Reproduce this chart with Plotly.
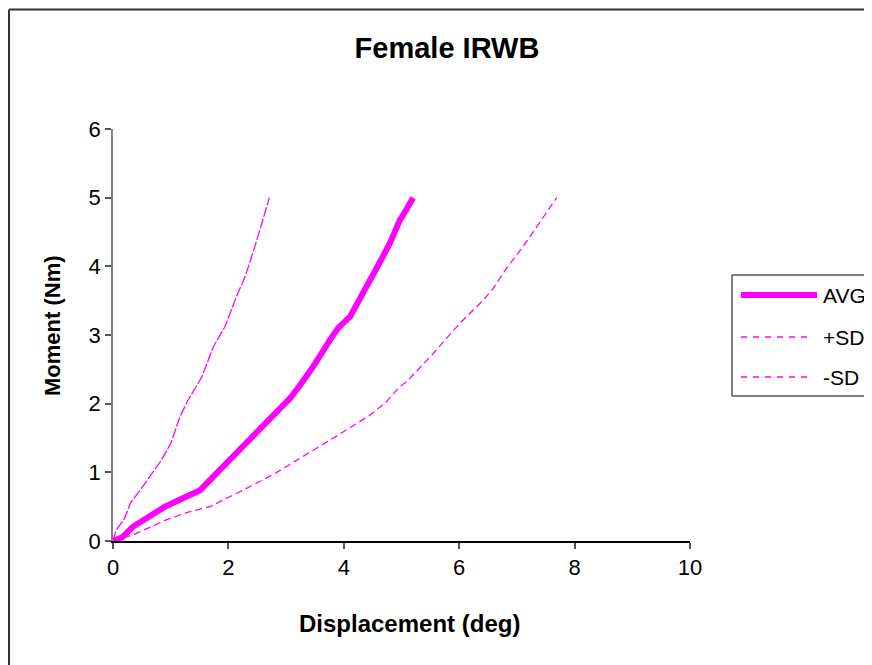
import plotly.graph_objects as go

# ---- data ----
avg_x = [0, 0.15, 0.35, 0.6, 0.9, 1.2, 1.51, 1.81, 2.08, 2.4, 2.75, 3.07, 3.25, 3.47, 3.76, 3.9, 4.11, 4.3, 4.51, 4.65, 4.8, 4.97, 5.1, 5.2]
avg_y = [0, 0.05, 0.21, 0.35, 0.5, 0.62, 0.74, 1.0, 1.23, 1.51, 1.82, 2.08, 2.28, 2.54, 2.93, 3.1, 3.27, 3.55, 3.9, 4.1, 4.34, 4.67, 4.85, 5.0]

psd_x = [0, 0.05, 0.2, 0.3, 0.47, 0.64, 0.84, 1.0, 1.16, 1.3, 1.54, 1.74, 1.94, 2.14, 2.29, 2.46, 2.6, 2.71]
psd_y = [0, 0.15, 0.33, 0.55, 0.74, 0.94, 1.18, 1.42, 1.81, 2.05, 2.39, 2.83, 3.12, 3.56, 3.85, 4.29, 4.67, 5.0]

msd_x = [0, 0.35, 0.93, 1.3, 1.68, 2.0, 2.37, 2.8, 3.24, 3.5, 3.82, 4.05, 4.45, 4.74, 4.97, 5.09, 5.55, 6.01, 6.42, 6.59, 6.82, 7.11, 7.4, 7.57, 7.69]
msd_y = [0, 0.09, 0.31, 0.42, 0.5, 0.63, 0.79, 0.98, 1.2, 1.33, 1.5, 1.62, 1.83, 2.03, 2.25, 2.32, 2.73, 3.17, 3.51, 3.68, 3.97, 4.29, 4.65, 4.87, 5.0]

series_names = ["AVG", "+SD", "-SD"]
title_text = "Female IRWB"
x_title = "Displacement (deg)"
y_title = "Moment (Nm)"

MAG = "#FF00FF"
FONT = "Arial, Liberation Sans, sans-serif"

OFF = 8  # page body margin offset
W, H = 872, 665
L, T = 113 - OFF, 129 - OFF
PW, PH = 577, 412
R = W - L - PW
B = H - T - PH


def px(xs):
    return (xs - OFF - L) / PW


def py(ys):
    return (T + PH - (ys - OFF)) / PH


def seg(x0, y0, x1, y1, color, width, dash="solid"):
    return dict(type="line", xref="paper", yref="paper", x0=px(x0), x1=px(x1), y0=py(y0), y1=py(y1),
                line=dict(color=color, width=width, dash=dash))


fig = go.Figure()
fig.add_trace(go.Scatter(x=avg_x, y=avg_y, mode="lines", name=series_names[0],
                         line=dict(color=MAG, width=6), showlegend=False))
fig.add_trace(go.Scatter(x=psd_x, y=psd_y, mode="lines", name=series_names[1],
                         line=dict(color=MAG, width=1.3, dash="10px,2px"), showlegend=False))
fig.add_trace(go.Scatter(x=msd_x, y=msd_y, mode="lines", name=series_names[2],
                         line=dict(color=MAG, width=1.3, dash="7px,4px"), showlegend=False))

shapes = [
    # chart border (left and top edges only; others fall outside the picture)
    seg(9, 9.5, 9, 665, "#333333", 2),
    seg(9, 9.5, 872, 9.5, "#333333", 2),
    # legend box (right edge falls outside the picture)
    seg(732, 275, 872, 275, "#000000", 1),
    seg(732, 396, 872, 396, "#000000", 1),
    seg(732, 275, 732, 396, "#000000", 1),
    # legend samples
    seg(741, 295, 817, 295, MAG, 6),
    seg(741, 337, 812, 337, MAG, 1.3, "6px,6px"),
    seg(741, 377, 812, 377, MAG, 1.3, "6px,6px"),
]

annotations = [
    dict(text=series_names[i], xref="paper", yref="paper", x=px(821), y=py(yy), xanchor="left",
         yanchor="middle", showarrow=False, font=dict(family=FONT, size=21, color="black"))
    for i, yy in enumerate([295, 337, 377])
]
annotations += [
    dict(text="<b>%s</b>" % x_title, xref="paper", yref="paper", x=px(409), y=py(623),
         xanchor="center", yanchor="middle", showarrow=False,
         font=dict(family=FONT, size=24, color="black")),
    dict(text="<b>%s</b>" % y_title, xref="paper", yref="paper", x=px(52), y=py(326),
         xanchor="center", yanchor="middle", showarrow=False, textangle=-90,
         font=dict(family=FONT, size=22, color="black")),
]

fig.update_layout(
    width=W, height=H,
    margin=dict(l=L, r=R, t=T, b=B),
    paper_bgcolor="white", plot_bgcolor="white",
    title=dict(text="<b>%s</b>" % title_text, x=px(447), xref="paper", xanchor="center",
               y=1 - (48 - OFF) / H, yref="container", yanchor="middle",
               font=dict(family=FONT, size=29, color="black")),
    xaxis=dict(range=[0, 10], dtick=2, tick0=0, showgrid=False, zeroline=False,
               showline=True, linecolor="black", linewidth=1.5,
               ticks="outside", ticklen=6, tickcolor="#555555", tickwidth=1.5,
               tickfont=dict(family=FONT, size=22, color="black")),
    yaxis=dict(range=[0, 6], dtick=1, tick0=0, showgrid=False, zeroline=False,
               showline=True, linecolor="#808080", linewidth=1.5,
               ticks="outside", ticklen=6, tickcolor="#555555", tickwidth=1.5,
               tickfont=dict(family=FONT, size=22, color="black")),
    shapes=shapes,
    annotations=annotations,
    showlegend=False,
)

fig.write_html("out.html")
